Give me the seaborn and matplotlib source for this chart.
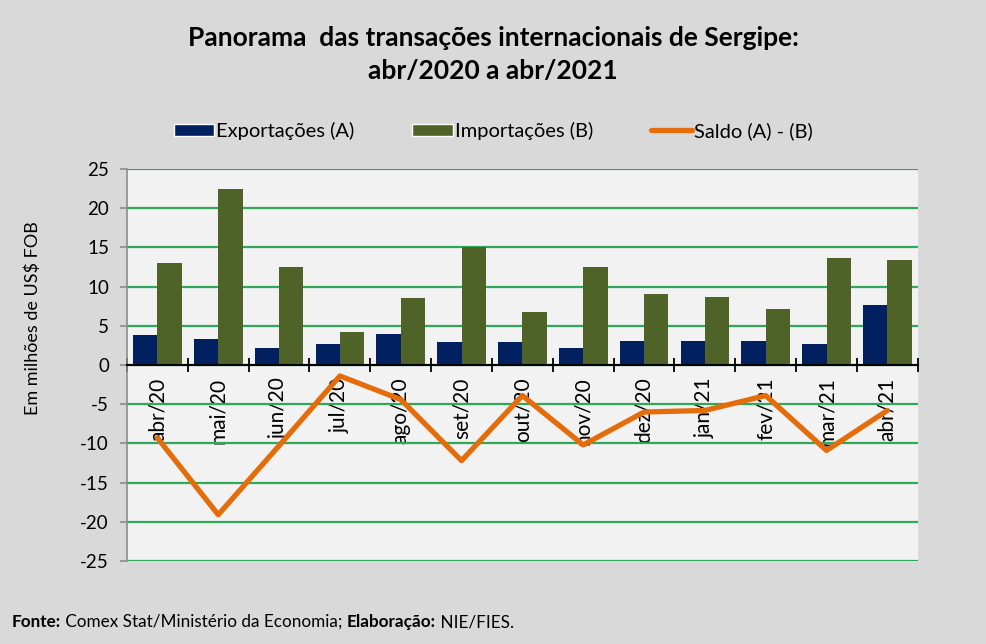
import pandas as pd
import matplotlib.pyplot as plt
import seaborn as sns
import numpy as np
from matplotlib.lines import Line2D
from matplotlib.patches import Patch

# Dados (US$ milhões FOB)
meses = ['abr/20', 'mai/20', 'jun/20', 'jul/20', 'ago/20', 'set/20', 'out/20',
         'nov/20', 'dez/20', 'jan/21', 'fev/21', 'mar/21', 'abr/21']
exportacoes = [3.8, 3.3, 2.2, 2.7, 4.0, 2.9, 2.9, 2.2, 3.1, 3.0, 3.1, 2.7, 7.6]
importacoes = [13.0, 22.4, 12.5, 4.2, 8.6, 15.1, 6.8, 12.5, 9.1, 8.7, 7.1, 13.6, 13.4]
saldo = [-9.3, -19.1, -10.3, -1.4, -4.4, -12.2, -3.9, -10.2, -6.0, -5.8, -3.9, -10.9, -5.8]

serie_a = 'Exportações (A)'
serie_b = 'Importações (B)'

df = pd.DataFrame({
    'mes': meses * 2,
    'valor': exportacoes + importacoes,
    'serie': [serie_a] * len(meses) + [serie_b] * len(meses),
})

cor_exp = '#002060'
cor_imp = '#4F6228'
cor_saldo = '#E46C0A'
cor_grade = '#2FA85A'

sns.set_theme(style='white')
plt.rcParams['font.family'] = ['Lato', 'DejaVu Sans']
plt.rcParams['axes.unicode_minus'] = False
plt.rcParams['text.color'] = 'black'

fig = plt.figure(figsize=(9.86, 6.44), dpi=100, facecolor='#D9D9D9')
ax = fig.add_axes([0.1288, 0.1289, 0.802, 0.6087])
ax.set_facecolor('#F2F2F2')

sns.barplot(data=df, x='mes', y='valor', hue='serie', order=meses,
            palette=[cor_exp, cor_imp], width=0.8, saturation=1, linewidth=0,
            legend=False, ax=ax, zorder=3)
sns.lineplot(x=np.arange(len(meses)), y=saldo, color=cor_saldo, linewidth=3.8,
             ax=ax, zorder=4)

ax.set_xlim(-0.5, len(meses) - 0.5)
ax.set_ylim(-25, 25)
ax.set_yticks(np.arange(-25, 26, 5))
ax.yaxis.grid(True, color=cor_grade, linewidth=1.6, zorder=0)
ax.set_axisbelow(True)

for s in ['top', 'right']:
    ax.spines[s].set_visible(False)
ax.spines['left'].set_color('#8C8C8C')
ax.spines['left'].set_linewidth(1.2)
ax.spines['bottom'].set_position(('data', 0))
ax.spines['bottom'].set_color('black')
ax.spines['bottom'].set_linewidth(1.5)
ax.spines['bottom'].set_zorder(5)

ax.tick_params(axis='y', direction='out', length=5, width=1.2, color='#8C8C8C',
               labelsize=13.5, pad=8, labelcolor='black', left=True)
ax.set_xticks(np.arange(len(meses)))
ax.set_xticklabels(meses, rotation=90, fontsize=15, va='top', ha='center',
                   color='black')
ax.set_xticks(np.arange(len(meses) + 1) - 0.5, minor=True)
ax.tick_params(axis='x', which='major', length=0, pad=9, bottom=True)
ax.tick_params(axis='x', which='minor', direction='inout', length=10, width=1.3,
               color='black', bottom=True)
ax.set_xlabel('')
ax.set_ylabel('')

fig.text(33 / 986, 1 - 318 / 644, 'Em milhões de US$ FOB', rotation=90,
         ha='center', va='center', fontsize=13)

fig.text(0.5, 1 - 55 / 644,
         'Panorama  das transações internacionais de Sergipe:\nabr/2020 a abr/2021',
         ha='center', va='center', fontsize=19, fontweight='bold',
         linespacing=1.45)

handles = [Patch(facecolor=cor_exp), Patch(facecolor=cor_imp),
           Line2D([0], [0], color=cor_saldo, linewidth=3.8)]
labels = [serie_a, serie_b, 'Saldo (A) - (B)']
fig.legend(handles, labels, loc='center', bbox_to_anchor=(0.5, 1 - 131 / 644),
           ncol=3, frameon=False, fontsize=14.5, handlelength=2.0,
           handleheight=0.6, handletextpad=0.1, columnspacing=2.9)

# rodapé com partes em negrito
partes = [('Fonte:', 'bold'), (' Comex Stat/Ministério da Economia; ', 'normal'),
          ('Elaboração:', 'bold'), (' NIE/FIES.', 'normal')]
rend = fig.canvas.get_renderer()
x = 12
for txt, peso in partes:
    t = fig.text(x / 986, 1 - 622 / 644, txt, fontsize=12.3, fontweight=peso,
                 va='center')
    x += t.get_window_extent(renderer=rend).width

fig.savefig('out.png', dpi=100, facecolor=fig.get_facecolor())
